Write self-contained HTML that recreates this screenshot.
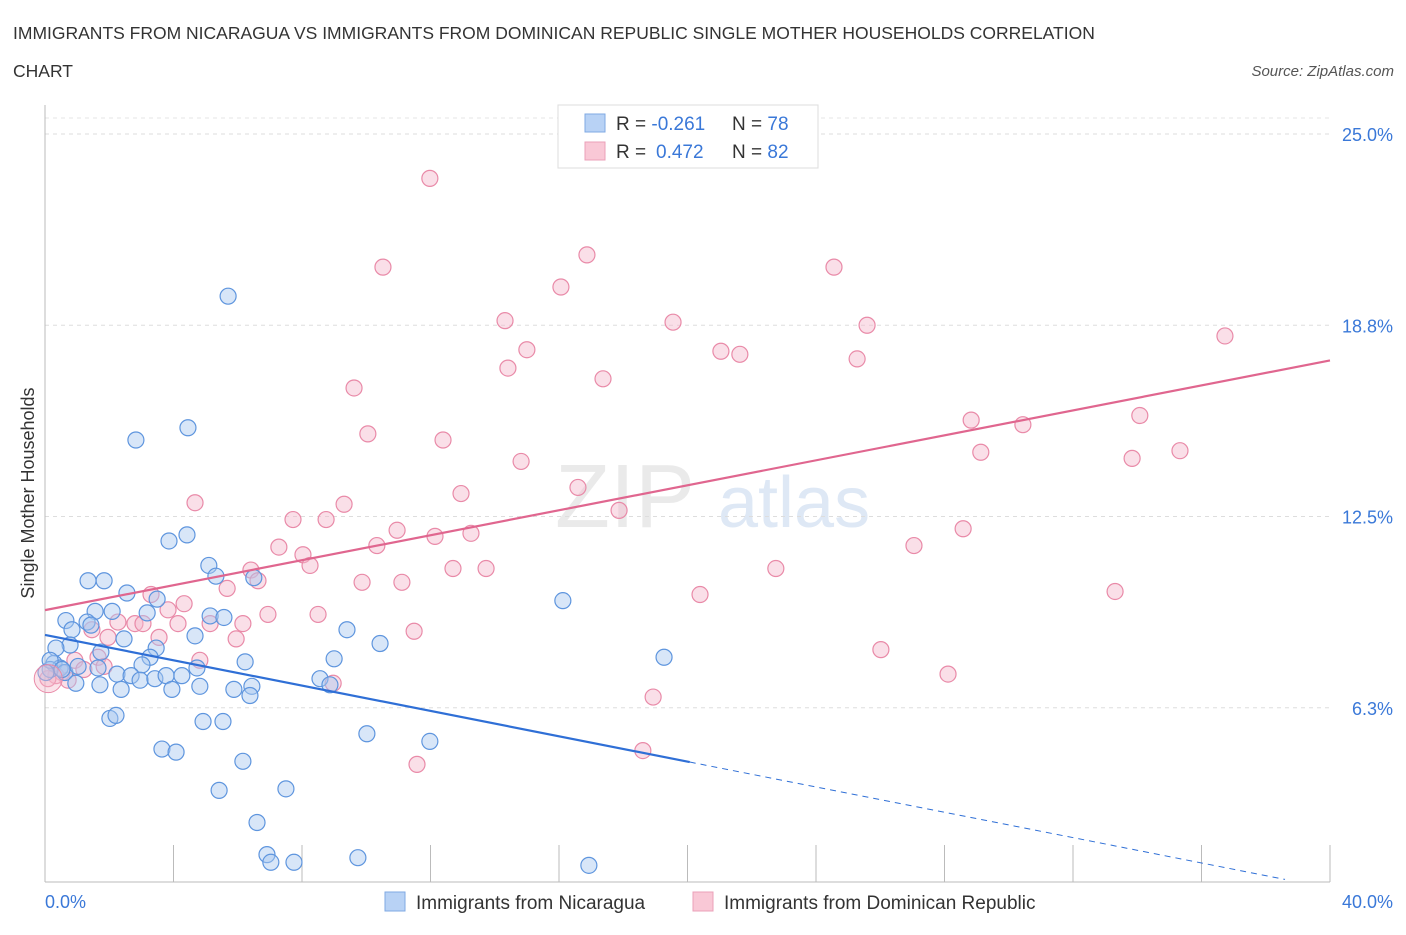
<!DOCTYPE html>
<html><head><meta charset="utf-8"><style>
body{margin:0;background:#fff;font-family:"Liberation Sans",sans-serif;}
svg text{font-family:"Liberation Sans",sans-serif;}
</style></head><body>
<svg id="chart" width="1406" height="930" viewBox="0 0 1406 930" xmlns="http://www.w3.org/2000/svg">
<text x="13" y="39" font-size="17.5" fill="#333">IMMIGRANTS FROM NICARAGUA VS IMMIGRANTS FROM DOMINICAN REPUBLIC SINGLE MOTHER HOUSEHOLDS CORRELATION</text>
<text x="13" y="77" font-size="17.5" fill="#333">CHART</text>
<text x="1394" y="76" font-size="15" fill="#555" text-anchor="end" font-style="italic">Source: ZipAtlas.com</text>
<text x="555" y="527" font-size="90" fill="#ddd" font-family="Liberation Serif" opacity="0.6">ZIP</text>
<text x="718" y="527" font-size="72" fill="#c9d9ef" opacity="0.6">atlas</text>
<g id="grid"></g>
<g id="axes"></g>
<g id="points"></g>
<g id="lines"></g>
<text transform="translate(34,493) rotate(-90)" font-size="18" fill="#333" text-anchor="middle">Single Mother Households</text>
<text x="45" y="908" font-size="18" fill="#3a78d8">0.0%</text>
<text x="1393" y="908" font-size="18" fill="#3a78d8" text-anchor="end">40.0%</text>
<g>
<rect x="558" y="105" width="260" height="63" fill="#fff" stroke="#ddd"/>
<rect x="585" y="114" width="20" height="18" fill="#b8d2f5" stroke="#7fa9e3"/>
<rect x="585" y="142" width="20" height="18" fill="#f9c8d6" stroke="#eba0b8"/>
<text x="616" y="130" font-size="19" fill="#333">R = <tspan fill="#3a78d8">-0.261</tspan><tspan x="732">N = </tspan><tspan fill="#3a78d8">78</tspan></text>
<text x="616" y="158" font-size="19" fill="#333">R = <tspan fill="#3a78d8" x="656">0.472</tspan><tspan x="732">N = </tspan><tspan fill="#3a78d8">82</tspan></text>
</g>
<g>
<rect x="385" y="892" width="20" height="19" fill="#b8d2f5" stroke="#7fa9e3"/>
<text x="416" y="909" font-size="19" fill="#333">Immigrants from Nicaragua</text>
<rect x="693" y="892" width="20" height="19" fill="#f9c8d6" stroke="#eba0b8"/>
<text x="724" y="909" font-size="19" fill="#333">Immigrants from Dominican Republic</text>
</g>
</svg>
<script>
const yTicks=[25,18.75,12.5,6.25];
const yTickLabels=["25.0%","18.8%","12.5%","6.3%"];
const xTicks=[0,4,8,12,16,20,24,28,32,36,40];
const blueX=[5.7,4.45,2.83,3.86,4.42,5.1,5.32,6.5,1.34,1.84,2.55,3.49,2.09,1.56,3.18,0.65,1.31,1.43,0.84,5.14,5.57,4.67,2.46,9.4,10.43,3.46,0.78,0.34,1.74,3.27,3.02,6.23,9.0,19.27,16.12,0.28,0.47,0.62,1.03,1.65,2.24,2.68,2.96,3.42,3.77,4.26,4.73,0.16,0.96,1.71,2.37,3.95,4.82,5.88,6.44,6.38,8.56,8.87,2.02,2.21,4.92,5.54,3.64,4.08,10.02,11.98,6.16,5.42,7.5,6.6,6.91,7.03,7.75,9.74,16.93,0.16,0.53,0.03];
const blueY=[19.7,15.4,15.0,11.7,11.9,10.9,10.55,10.5,10.4,10.4,10.0,9.8,9.4,9.4,9.35,9.1,9.05,8.95,8.8,9.25,9.2,8.6,8.5,8.8,8.35,8.2,8.3,8.2,8.07,7.9,7.65,7.75,7.85,7.9,9.75,7.7,7.55,7.4,7.6,7.55,7.35,7.3,7.15,7.2,7.3,7.3,7.55,7.5,7.05,7.0,6.85,6.85,6.95,6.85,6.95,6.65,7.2,7.0,5.9,6.0,5.8,5.8,4.9,4.8,5.4,5.15,4.5,3.55,3.6,2.5,1.45,1.2,1.2,1.35,1.1,7.8,7.5,7.4];
const pinkX=[11.98,16.87,10.52,24.56,16.06,14.32,19.55,25.59,36.73,15.0,21.04,21.63,25.28,14.41,17.37,9.62,28.83,30.44,34.08,10.05,12.39,29.13,35.33,33.84,14.82,16.59,12.95,4.67,9.31,17.87,7.72,8.75,10.96,28.58,12.14,13.26,10.33,27.05,7.28,8.03,8.25,12.7,13.73,22.75,6.41,6.63,9.87,11.11,5.67,33.31,20.39,3.3,4.33,3.83,6.94,8.5,2.27,2.8,3.05,4.14,5.14,6.16,1.46,11.49,5.95,3.55,1.96,26.02,0.93,4.82,1.65,1.21,28.11,0.53,0.34,0.72,8.97,0.09,18.93,18.61,11.58,1.84];
const pinkY=[23.55,21.05,20.65,20.65,20.0,18.9,18.85,18.75,18.4,17.95,17.9,17.8,17.65,17.35,17.0,16.7,15.65,15.5,15.8,15.2,15.0,14.6,14.65,14.4,14.3,13.45,13.25,12.95,12.9,12.7,12.4,12.4,12.05,12.1,11.85,11.95,11.55,11.55,11.5,11.25,10.9,10.8,10.8,10.8,10.75,10.4,10.35,10.35,10.15,10.05,9.95,9.95,9.65,9.45,9.3,9.3,9.05,9.0,9.0,9.0,9.0,9.0,8.8,8.75,8.5,8.55,8.55,8.15,7.8,7.8,7.9,7.5,7.35,7.4,7.3,7.15,7.05,7.2,6.6,4.85,4.4,7.6];
const blueFit=[8.63,-0.207];
const pinkFit=[9.44,0.204];
const NS="http://www.w3.org/2000/svg";
const xs=v=>45+v*32.125, ys=v=>899-v*30.6;
function mk(tag,attrs,parent){const e=document.createElementNS(NS,tag);for(const k in attrs)e.setAttribute(k,attrs[k]);document.getElementById(parent).appendChild(e);return e;}
yTicks.forEach((t,i)=>{
 const l=mk('line',{x1:45,x2:1330,y1:ys(t),y2:ys(t),stroke:'#ddd','stroke-dasharray':'4,4'},'grid');
 
 
 const tx=mk('text',{x:1393,y:ys(t)+7,'font-size':18,fill:'#3a78d8','text-anchor':'end'},'grid');
 tx.textContent=yTickLabels[i];
 
 
});
const tl=mk('line',{x1:45,x2:1330,y1:118,y2:118,stroke:'#e4e4e4','stroke-dasharray':'4,4'},'grid');


const ya=mk('line',{x1:45,x2:45,y1:105,y2:882,stroke:'#bbb'},'axes');


const xa=mk('line',{x1:45,x2:1330,y1:882,y2:882,stroke:'#bbb'},'axes');


xTicks.forEach(t=>{
 const l=mk('line',{x1:xs(t),x2:xs(t),y1:845,y2:882,stroke:'#bbb'},'axes');
 
 
});
function pts(X,Y,fill,stroke,name){
 X.forEach((x,i)=>{
  const c=mk('circle',{cx:xs(x),cy:ys(Y[i]),r:8,fill:fill,'fill-opacity':0.45,stroke:stroke,'stroke-width':1.2},'points');
  
  
 });
}
pts(pinkX,pinkY,'#f4b8cb','#e98aa8','point-dominican');
pts(blueX,blueY,'#a9c8f0','#5e95de','point-nicaragua');
const big=mk('circle',{cx:xs(0.1),cy:ys(7.2),r:14,fill:'#f4b8cb','fill-opacity':0.4,stroke:'#e98aa8'},'points');


const bEnd=Math.max(...blueX)+0.8;
const b1=mk('line',{x1:xs(0),y1:ys(blueFit[0]),x2:xs(bEnd),y2:ys(blueFit[0]+blueFit[1]*bEnd),stroke:'#2f6fd6','stroke-width':2.2},'lines');


const b2=mk('line',{x1:xs(bEnd),y1:ys(blueFit[0]+blueFit[1]*bEnd),x2:xs(38.6),y2:ys(blueFit[0]+blueFit[1]*38.6),stroke:'#2f6fd6','stroke-width':1,'stroke-dasharray':'6,5'},'lines');


const p1=mk('line',{x1:xs(0),y1:ys(pinkFit[0]),x2:xs(40),y2:ys(pinkFit[0]+pinkFit[1]*40),stroke:'#e0668f','stroke-width':2.2},'lines');


</script>
</body></html>
